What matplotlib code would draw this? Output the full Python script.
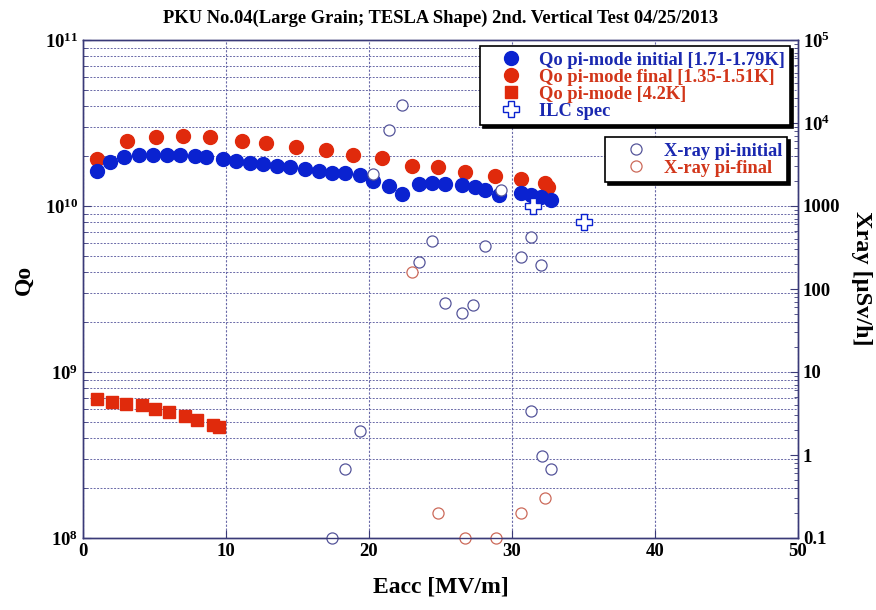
import matplotlib
matplotlib.use("Agg")
import matplotlib.pyplot as plt
from matplotlib.lines import Line2D
from matplotlib.ticker import LogLocator, NullFormatter, FixedLocator, FixedFormatter

plt.rcParams['font.family'] = ['Liberation Serif', 'DejaVu Serif']
plt.rcParams['font.weight'] = 'bold'
plt.rcParams['mathtext.fontset'] = 'custom'
plt.rcParams['mathtext.rm'] = 'Liberation Serif:bold'
plt.rcParams['mathtext.bf'] = 'Liberation Serif:bold'

# Qo, pi-mode initial [1.71-1.79K]
eacc_init = [1.0, 1.9, 2.9, 3.9, 4.9, 5.9, 6.8, 7.8, 8.6, 9.8, 10.7, 11.7, 12.6,
             13.6, 14.5, 15.5, 16.5, 17.4, 18.3, 19.4, 20.3, 21.4, 22.3, 23.5,
             24.4, 25.3, 26.5, 27.4, 28.1, 29.1, 30.6, 31.3, 32.0, 32.7]
qo_init = [1.63e10, 1.85e10, 1.97e10, 2.02e10, 2.04e10, 2.03e10, 2.04e10, 2.00e10,
           1.98e10, 1.92e10, 1.87e10, 1.82e10, 1.79e10, 1.75e10, 1.71e10, 1.66e10,
           1.63e10, 1.58e10, 1.57e10, 1.54e10, 1.42e10, 1.32e10, 1.18e10, 1.35e10,
           1.38e10, 1.35e10, 1.33e10, 1.31e10, 1.24e10, 1.16e10, 1.19e10, 1.16e10,
           1.14e10, 1.08e10]

# Qo, pi-mode final [1.35-1.51K]
eacc_final = [1.0, 3.1, 5.1, 7.0, 8.9, 11.1, 12.8, 14.9, 17.0, 18.9, 20.9, 23.0,
              24.8, 26.7, 28.8, 30.6, 32.3, 32.5]
qo_final = [1.91e10, 2.47e10, 2.61e10, 2.64e10, 2.59e10, 2.47e10, 2.39e10, 2.26e10,
            2.17e10, 2.04e10, 1.95e10, 1.73e10, 1.72e10, 1.60e10, 1.52e10, 1.45e10,
            1.37e10, 1.30e10]

# Qo, pi-mode 4.2K
eacc_42k = [1.0, 2.0, 3.0, 4.1, 5.0, 6.0, 7.1, 8.0, 9.1, 9.5]
qo_42k = [6.85e8, 6.63e8, 6.44e8, 6.35e8, 6.01e8, 5.77e8, 5.43e8, 5.14e8, 4.82e8, 4.68e8]

# ILC spec
eacc_ilc = [31.5, 35.0]
qo_ilc = [1.0e10, 8.0e9]

# X-ray [uSv/h]
eacc_xi = [17.4, 18.3, 19.4, 20.3, 21.4, 22.3, 23.5, 24.4, 25.3, 26.5, 27.3, 28.1,
           29.2, 30.6, 31.3, 31.3, 32.0, 32.1, 32.7]
xray_init = [0.1, 0.68, 1.95, 2430, 8200, 16600, 213, 382, 68, 52, 64, 333,
             1560, 241, 427, 3.4, 195, 0.98, 0.68]
eacc_xf = [23.0, 24.8, 26.7, 28.9, 30.6, 32.3]
xray_final = [161, 0.2, 0.1, 0.1, 0.2, 0.3]

x_ticks = [0, 10, 20, 30, 40, 50]
right_ticks = [0.1, 1, 10, 100, 1000, 1e4, 1e5]
right_labels = ['0.1', '1', '10', '100', '1000', r'$10^4$', r'$10^5$']

blue = '#0a22d0'
red = '#e02a0c'
blue_txt = '#1a28b0'
red_txt = '#d2361a'
xblue = '#55559a'
xred = '#cc6a5a'
frame = '#3a3a78'

fig = plt.figure(figsize=(8.76, 6.10), dpi=100)
ax = fig.add_axes([83/876, 1 - 538/610, (798-83)/876, (538-40)/610])
ax2 = ax.twinx()

ax.set_yscale('log')
ax.set_xlim(0, 50)
ax.set_ylim(1e8, 1e11)
ax2.set_yscale('log')
ax2.set_ylim(0.1, 1e5)

ax.plot(eacc_init, qo_init, 'o', color=blue, ms=10, mec=blue, zorder=3)
ax.plot(eacc_final, qo_final, 'o', color=red, ms=10, mec=red, zorder=2)
ax.plot(eacc_42k, qo_42k, 's', color=red, ms=8, mec=red, zorder=3)
ax.plot(eacc_ilc, qo_ilc, 'P', mfc='white', mec=blue, mew=1.0, ms=11, zorder=4)

ax2.plot(eacc_xi, xray_init, 'o', mfc='white', mec=xblue, mew=0.9, ms=8, clip_on=False)
ax2.plot(eacc_xf, xray_final, 'o', mfc='white', mec=xred, mew=0.9, ms=8, clip_on=False)

# grid: left axis major + minor, vertical at major x
ax.grid(True, which='both', axis='y', color='#6a6aa8', linestyle=(0, (2, 1.5)), linewidth=0.7)
ax.grid(True, which='major', axis='x', color='#6a6aa8', linestyle=(0, (2, 1.5)), linewidth=0.8)
ax.set_axisbelow(True)

ax.set_xticks(x_ticks)
ax.yaxis.set_major_locator(LogLocator(base=10, numticks=10))
ax.yaxis.set_minor_locator(LogLocator(base=10, subs=range(2, 10), numticks=20))
ax.yaxis.set_minor_formatter(NullFormatter())
ax2.yaxis.set_major_locator(FixedLocator(right_ticks))
ax2.yaxis.set_major_formatter(FixedFormatter(right_labels))
ax2.yaxis.set_minor_locator(LogLocator(base=10, subs=range(2, 10), numticks=20))
ax2.yaxis.set_minor_formatter(NullFormatter())

for a in (ax, ax2):
    a.tick_params(which='both', direction='in', colors=frame, labelcolor='black',
                  labelsize=13.5)
    a.tick_params(which='major', length=6)
    a.tick_params(which='minor', length=3)
    for s in a.spines.values():
        s.set_color(frame)
        s.set_linewidth(1.0)

ax.set_xlabel('Eacc [MV/m]', fontsize=17, fontweight='bold', labelpad=12)
ax.set_ylabel('Qo', fontsize=17, fontweight='bold')
ax.yaxis.set_label_coords(-0.067, 0.518)
ax2.set_ylabel('Xray [\u00b5Sv/h]', fontsize=17.5, fontweight='bold', rotation=-90)
ax2.yaxis.set_label_coords(1.1035, 0.522)
ax.set_title('PKU No.04(Large Grain; TESLA Shape) 2nd. Vertical Test 04/25/2013',
             fontsize=13.3, fontweight='bold', pad=12)

h1 = [Line2D([], [], ls='none', marker='o', color=blue, ms=10),
      Line2D([], [], ls='none', marker='o', color=red, ms=10),
      Line2D([], [], ls='none', marker='s', color=red, ms=8),
      Line2D([], [], ls='none', marker='P', mfc='white', mec=blue, mew=1.0, ms=11)]
l1 = ['Qo pi-mode initial [1.71-1.79K]', 'Qo pi-mode final [1.35-1.51K]',
      'Qo pi-mode [4.2K]', 'ILC spec']
leg1 = ax2.legend(h1, l1, loc='upper left', bbox_to_anchor=(480/876, 1 - 46/610),
                  bbox_transform=fig.transFigure, fontsize=13.3, frameon=True,
                  fancybox=False, edgecolor='black', borderpad=0.3, labelspacing=0.0,
                  handletextpad=0.1, handlelength=2.77, borderaxespad=0,
                  labelcolor=[blue_txt, red_txt, red_txt, blue_txt],
                  shadow={'color': 'black', 'alpha': 1.0})
leg1.get_frame().set_linewidth(1.2)
ax2.add_artist(leg1)

h2 = [Line2D([], [], ls='none', marker='o', mfc='white', mec=xblue, mew=0.9, ms=8),
      Line2D([], [], ls='none', marker='o', mfc='white', mec=xred, mew=0.9, ms=8)]
l2 = ['X-ray pi-initial', 'X-ray pi-final']
leg2 = ax2.legend(h2, l2, loc='upper left', bbox_to_anchor=(605/876, 1 - 137/610),
                  bbox_transform=fig.transFigure, fontsize=13.3, frameon=True,
                  fancybox=False, edgecolor='black', borderpad=0.3, labelspacing=0.0,
                  handletextpad=0.1, handlelength=2.77, borderaxespad=0,
                  labelcolor=[blue_txt, red_txt],
                  shadow={'color': 'black', 'alpha': 1.0})
leg2.get_frame().set_linewidth(1.2)

fig.savefig('out.png', dpi=100)
